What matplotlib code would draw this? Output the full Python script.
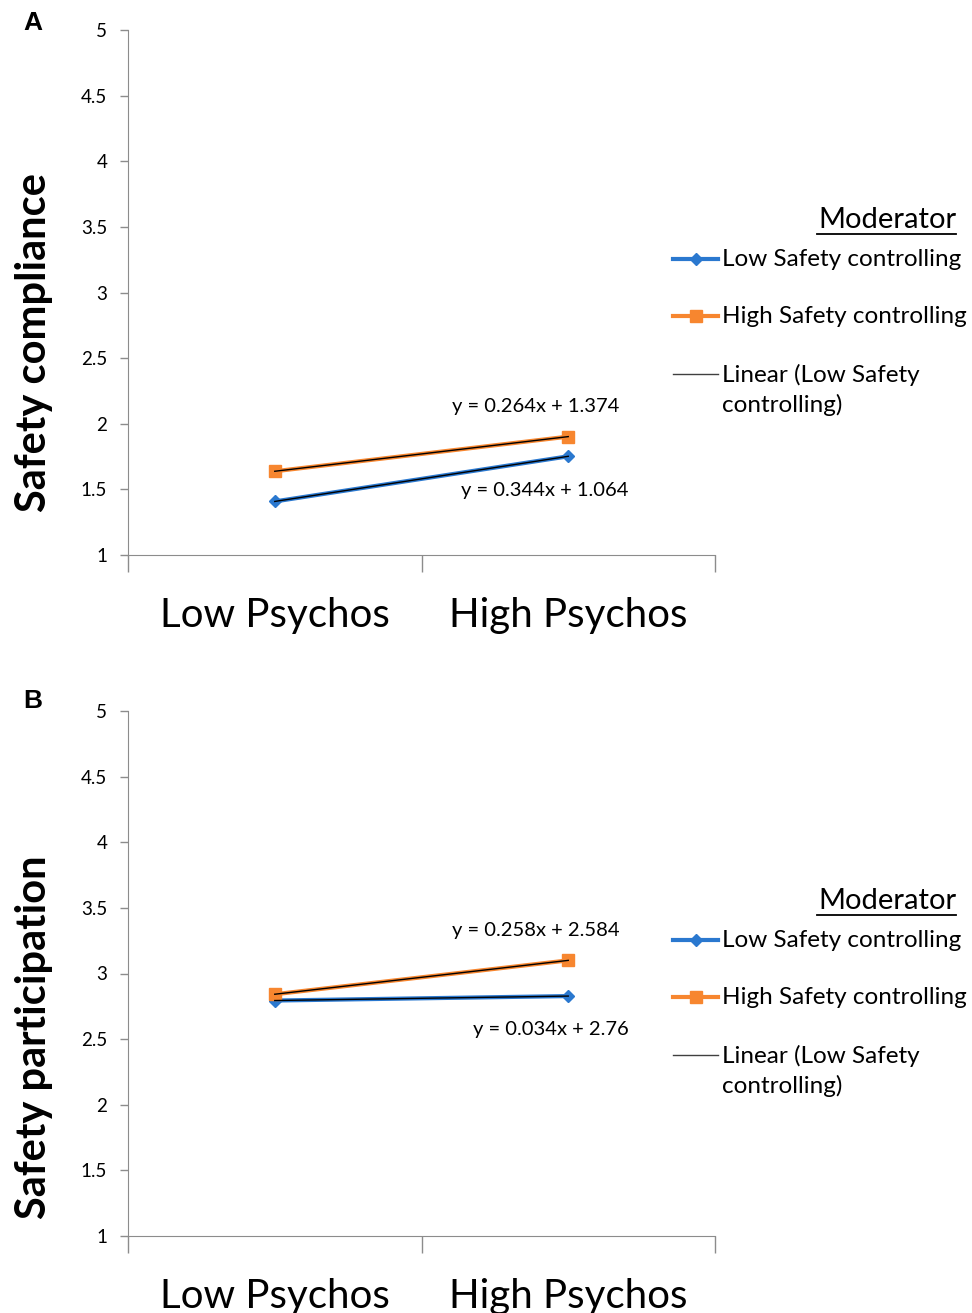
import matplotlib.pyplot as plt
from matplotlib.lines import Line2D

# data
categories = ['Low Psychos', 'High Psychos']
comp_low = [1.408, 1.752]
comp_high = [1.638, 1.902]
part_low = [2.794, 2.828]
part_high = [2.842, 3.100]
eq_comp = ['y = 0.344x + 1.064', 'y = 0.264x + 1.374']
eq_part = ['y = 0.034x + 2.76', 'y = 0.258x + 2.584']
yticks = [1, 1.5, 2, 2.5, 3, 3.5, 4, 4.5, 5]
legend_labels = ['Low Safety controlling', 'High Safety controlling',
                 'Linear (Low Safety\ncontrolling)']

BLUE = '#2a78cf'
ORANGE = '#f7862f'
GREY = '#8c8c8c'
FONT = 'Lato'
W, H = 972, 1313

plt.rcParams['font.family'] = [FONT, 'DejaVu Sans']


def draw_panel(ax, low, high, eqs, ylabel, ylab_y, eq_pos):
    x = list(range(len(categories)))
    ax.plot(x, low, color=BLUE, lw=3, marker='D', ms=6)
    ax.plot(x, high, color=ORANGE, lw=3, marker='s', ms=8)
    # linear trendlines (exact through two points)
    ax.plot(x, low, color='black', lw=1)
    ax.plot(x, high, color='black', lw=1)

    ax.set_xlim(-0.5, 1.5)
    ax.set_ylim(1, 5)
    ax.set_yticks(yticks)
    ax.set_yticklabels([f'{t:g}' for t in yticks], fontsize=13.5)
    ax.set_xticks(x)
    ax.set_xticklabels(categories, fontsize=29)
    ax.set_xticks([-0.5, 0.5, 1.5], minor=True)
    ax.tick_params(axis='x', which='major', length=0, pad=30)
    ax.tick_params(axis='x', which='minor', length=12, color=GREY, width=1)
    ax.tick_params(axis='y', length=6, color=GREY, width=1, pad=9)
    for s in ['top', 'right']:
        ax.spines[s].set_visible(False)
    for s in ['left', 'bottom']:
        ax.spines[s].set_color(GREY)

    ax.set_ylabel(ylabel, fontsize=30, fontweight='bold')
    ax.yaxis.set_label_coords(-0.127, ylab_y)

    (lx, ly), (hx, hy) = eq_pos
    ax.text(lx, ly, eqs[0], fontsize=14.5, ha='center', va='center')
    ax.text(hx, hy, eqs[1], fontsize=14.5, ha='center', va='center')


def draw_legend(top):
    fy = lambda py: 1 - py / H
    fx = lambda px: px / W
    fig.text(fx(956), fy(top), 'Moderator', fontsize=21, ha='right', va='center')
    fig.add_artist(Line2D([fx(817), fx(956)], [fy(top + 14), fy(top + 14)],
                          color='black', lw=1.3))
    styles = [dict(color=BLUE, lw=3, marker='D', ms=6),
              dict(color=ORANGE, lw=3, marker='s', ms=8),
              dict(color='#404040', lw=1, marker=None, ms=0)]
    offsets = [39, 96, 154]
    for lab, st, off in zip(legend_labels, styles, offsets):
        y = fy(top + off)
        fig.add_artist(Line2D([fx(673), fx(718)], [y, y], color=st['color'], lw=st['lw']))
        if st['marker']:
            fig.add_artist(Line2D([fx(695.5)], [y], color=st['color'], marker=st['marker'],
                                  ms=st['ms'], lw=0))
        fig.text(fx(722), fy(top + off - 10), lab, fontsize=17.5, ha='left', va='top',
                 linespacing=1.45)


fig = plt.figure(figsize=(W / 100, H / 100), dpi=100)
ax_a = fig.add_axes([128 / W, 1 - 555 / H, 587 / W, 525 / H])
ax_b = fig.add_axes([128 / W, 1 - 1236 / H, 587 / W, 525 / H])

draw_panel(ax_a, comp_low, comp_high, eq_comp, 'Safety compliance', 0.404,
           [(0.92, 1.495), (0.89, 2.128)])
draw_panel(ax_b, part_low, part_high, eq_part, 'Safety participation', 0.379,
           [(0.94, 2.57), (0.89, 3.324)])

fig.text(33 / W, 1 - 23 / H, 'A', fontsize=19, fontweight='bold', family='Liberation Sans',
         ha='center', va='center')
fig.text(33 / W, 1 - 701 / H, 'B', fontsize=19, fontweight='bold', family='Liberation Sans',
         ha='center', va='center')

draw_legend(220)
draw_legend(901)

fig.savefig('out.png', dpi=100)
